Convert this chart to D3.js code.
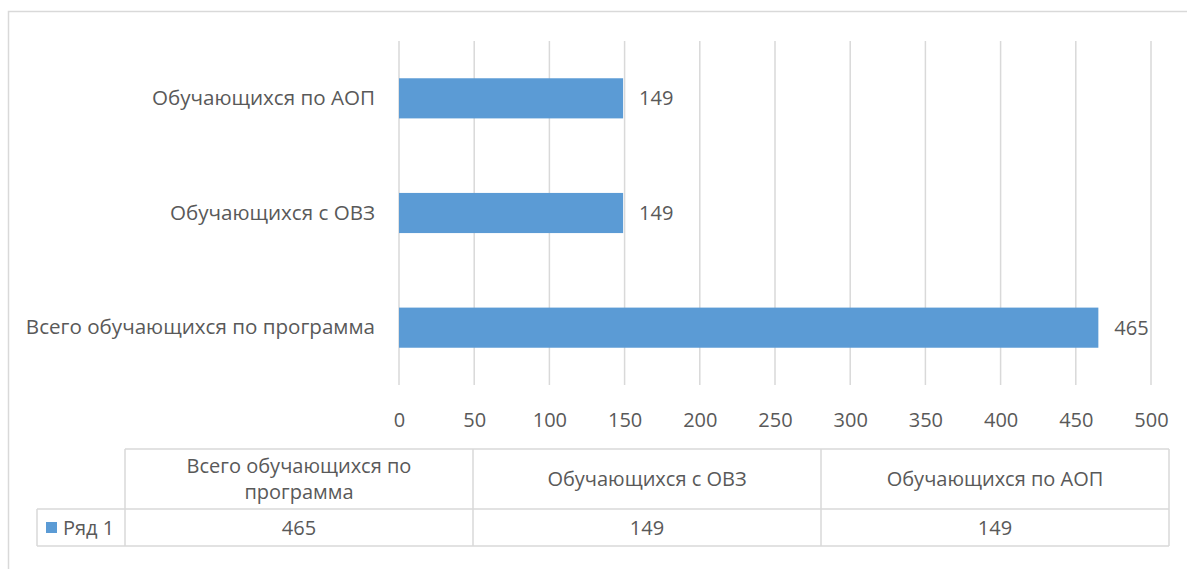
<!DOCTYPE html>
<html><head><meta charset="utf-8">
<script src="https://cdn.jsdelivr.net/npm/d3@7"></script>
<style>body{margin:0;background:#fff}svg{display:block}</style>
</head><body>
<script>
const categories = ["Всего обучающихся по программа", "Обучающихся с ОВЗ", "Обучающихся по АОП"];
const values = [465, 149, 149];
const seriesName = "Ряд 1";
const xTicks = [0, 50, 100, 150, 200, 250, 300, 350, 400, 450, 500];

const W = 1187, H = 569;
const font = "'Open Sans', sans-serif";
const fs = 20;
const textColor = "#595959";
const barColor = "#5b9bd5";
const gridColor = "#d9d9d9";

const svg = d3.select("body").append("svg").attr("width", W).attr("height", H);

// outer chart frame (extends beyond the picture at right and bottom)
svg.append("rect").attr("x", 8.5).attr("y", 11.5).attr("width", 1200).attr("height", 600)
  .attr("fill", "none").attr("stroke", gridColor).attr("stroke-width", 1.5);

const x = d3.scaleLinear().domain([0, 500]).range([399, 1151]);
const plotTop = 41, plotBottom = 385;
const y = d3.scaleBand().domain(categories.slice().reverse()).range([plotTop, plotBottom]).paddingInner(0.65).paddingOuter(0.325);

// grid
svg.append("g").selectAll("line").data(xTicks).join("line")
  .attr("x1", d => x(d)).attr("x2", d => x(d)).attr("y1", plotTop).attr("y2", plotBottom)
  .attr("stroke", gridColor).attr("stroke-width", 1.5);

// tick labels via axis
const axis = svg.append("g").attr("transform", `translate(0,${plotBottom})`)
  .call(d3.axisBottom(x).tickValues(xTicks).tickSize(0).tickPadding(28).tickFormat(d3.format("d")));
axis.select(".domain").remove();
axis.selectAll("text").attr("font-family", font).attr("font-size", fs).attr("fill", textColor);

// category axis labels
const yAxis = svg.append("g").attr("transform", `translate(${x(0)},0)`)
  .call(d3.axisLeft(y).tickSize(0).tickPadding(24));
yAxis.select(".domain").remove();
yAxis.selectAll("text").attr("font-family", font).attr("font-size", 20.6).attr("fill", textColor);

// bars
svg.append("g").selectAll("rect").data(categories).join("rect")
  .attr("x", x(0)).attr("y", d => y(d))
  .attr("width", (d, i) => x(values[i]) - x(0)).attr("height", y.bandwidth())
  .attr("fill", barColor);

// value labels
svg.append("g").selectAll("text").data(categories).join("text")
  .attr("x", (d, i) => x(values[i]) + 16).attr("y", d => y(d) + y.bandwidth() / 2)
  .attr("dy", "0.35em").attr("font-family", font).attr("font-size", fs).attr("fill", textColor)
  .text((d, i) => values[i]);

// data table
const colX = [37, 125, 473, 821, 1169];
const rowY = [449, 509, 546];
const tg = svg.append("g").attr("stroke", gridColor).attr("stroke-width", 1.5).attr("fill", "none");
tg.append("line").attr("x1", colX[1]).attr("x2", colX[4]).attr("y1", rowY[0]).attr("y2", rowY[0]);
tg.append("line").attr("x1", colX[0]).attr("x2", colX[4]).attr("y1", rowY[1]).attr("y2", rowY[1]);
tg.append("line").attr("x1", colX[0]).attr("x2", colX[4]).attr("y1", rowY[2]).attr("y2", rowY[2]);
tg.append("line").attr("x1", colX[0]).attr("x2", colX[0]).attr("y1", rowY[1]).attr("y2", rowY[2]);
[1, 2, 3, 4].forEach(i => tg.append("line").attr("x1", colX[i]).attr("x2", colX[i]).attr("y1", rowY[0]).attr("y2", rowY[2]));

const headerLines = [["Всего обучающихся по", "программа"], ["Обучающихся с ОВЗ"], ["Обучающихся по АОП"]];
categories.forEach((c, i) => {
  const cx = (colX[i + 1] + colX[i + 2]) / 2;
  const lines = headerLines[i];
  const lh = 26;
  const cy = (rowY[0] + rowY[1]) / 2;
  lines.forEach((l, j) => {
    svg.append("text").attr("x", cx).attr("y", cy + (j - (lines.length - 1) / 2) * lh)
      .attr("dy", "0.35em").attr("text-anchor", "middle")
      .attr("font-family", font).attr("font-size", fs).attr("fill", textColor).text(l);
  });
  svg.append("text").attr("x", cx).attr("y", (rowY[1] + rowY[2]) / 2)
    .attr("dy", "0.35em").attr("text-anchor", "middle")
    .attr("font-family", font).attr("font-size", fs).attr("fill", textColor).text(values[i]);
});

// legend key
svg.append("rect").attr("x", 46).attr("y", 522).attr("width", 11).attr("height", 11).attr("fill", barColor);
svg.append("text").attr("x", 63).attr("y", (rowY[1] + rowY[2]) / 2).attr("dy", "0.35em")
  .attr("font-family", font).attr("font-size", fs).attr("fill", textColor).text(seriesName);
</script>
</body></html>
